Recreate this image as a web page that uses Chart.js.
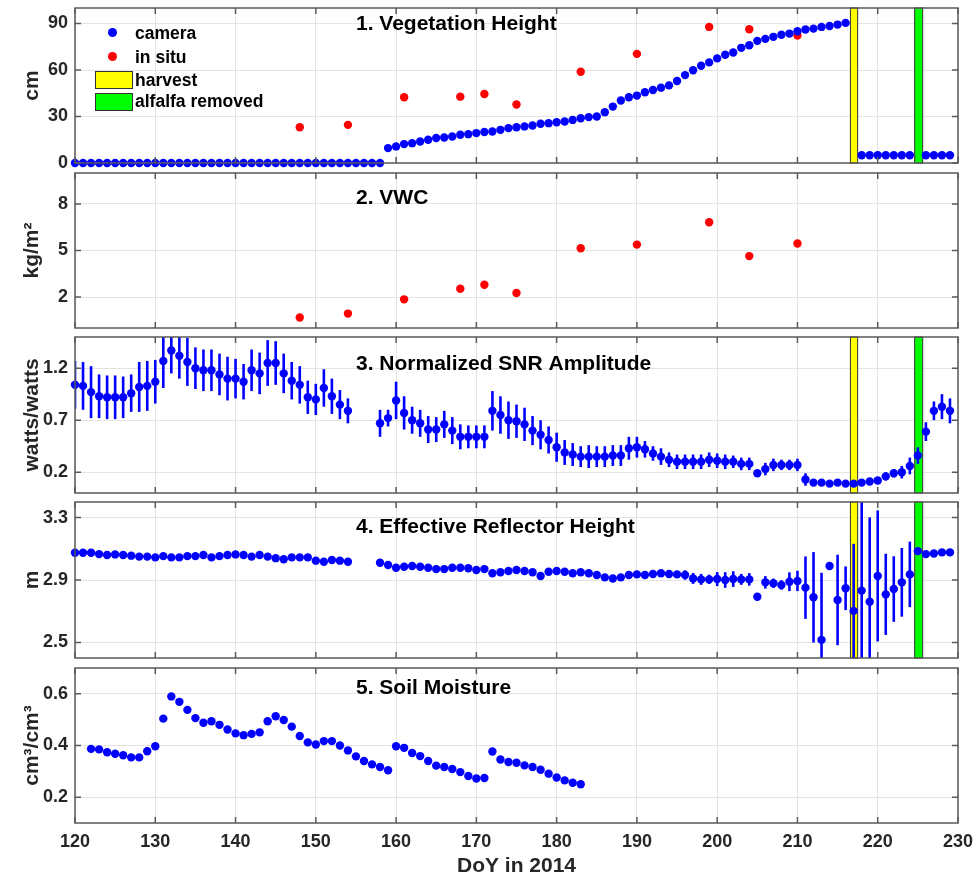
<!DOCTYPE html>
<html>
<head>
<meta charset="utf-8">
<script src="https://cdn.jsdelivr.net/npm/chart.js@4.4.1/dist/chart.umd.min.js"></script>
<style>
  html, body { margin: 0; padding: 0; background: #fff; }
  #fig { position: relative; width: 976px; height: 877px; overflow: hidden; font-family: "Liberation Sans", Arial, sans-serif; }
  #fig canvas { position: absolute; left: 0; }
  .leg { position: absolute; font-weight: bold; font-size: 17.5px; color: #000; white-space: nowrap; line-height: 20px; }
  .dot { position: absolute; width: 9px; height: 9px; border-radius: 50%; }
  .box { position: absolute; width: 36px; height: 16px; border: 1px solid #333; }
</style>
</head>
<body>
<div id="fig">
  <div class="dot" style="left:108px;top:28px;background:#0000ff"></div>
  <div class="leg" style="left:135px;top:23px">camera</div>
  <div class="dot" style="left:108px;top:52px;background:#ff0000"></div>
  <div class="leg" style="left:135px;top:47px">in situ</div>
  <div class="box" style="left:95px;top:71px;background:#ffff00"></div>
  <div class="leg" style="left:135px;top:70px">harvest</div>
  <div class="box" style="left:95px;top:93px;background:#00ff00"></div>
  <div class="leg" style="left:135px;top:91px">alfalfa removed</div>
</div>
<script>
// x axis
const dayTicks = [120, 130, 140, 150, 160, 170, 180, 190, 200, 210, 220, 230];

// harvest / alfalfa removed (DoY spans)
const harvestSpan = [216.6, 217.5];
const removedSpan = [224.6, 225.6];

// 1. vegetation height, camera (cm)
const camDays = [
  120, 121, 122, 123, 124, 125, 126, 127, 128, 129, 130, 131, 132, 133, 134, 135, 136, 137, 138, 139,
  140, 141, 142, 143, 144, 145, 146, 147, 148, 149, 150, 151, 152, 153, 154, 155, 156, 157, 158,
  159, 160, 161, 162, 163, 164, 165, 166, 167, 168, 169, 170, 171, 172, 173, 174, 175, 176, 177, 178,
  179, 180, 181, 182, 183, 184, 185, 186, 187, 188, 189, 190, 191, 192, 193, 194, 195, 196, 197, 198,
  199, 200, 201, 202, 203, 204, 205, 206, 207, 208, 209, 210, 211, 212, 213, 214, 215, 216,
  218, 219, 220, 221, 222, 223, 224, 226, 227, 228, 229
];
const camHeight = [
  0, 0, 0, 0, 0, 0, 0, 0, 0, 0, 0, 0, 0, 0, 0, 0, 0, 0, 0, 0,
  0, 0, 0, 0, 0, 0, 0, 0, 0, 0, 0, 0, 0, 0, 0, 0, 0, 0, 0,
  9.6, 10.7, 12.2, 12.8, 13.9, 15.0, 16.1, 16.5, 17.1, 18.2, 18.6, 19.3, 20.0, 20.3, 21.4, 22.5, 23.1, 23.6, 24.2, 25.3,
  25.7, 26.3, 26.8, 27.8, 28.9, 29.6, 30.0, 32.8, 36.4, 40.3, 42.4, 43.5, 45.6, 47.1, 48.6, 50.1, 52.9, 56.7, 59.8, 62.7,
  64.9, 67.5, 69.8, 71.3, 74.3, 76.0, 78.8, 80.1, 81.4, 82.7, 83.5, 85.0, 86.1, 86.7, 87.8, 88.4, 89.3, 90.4,
  5, 5, 5, 5, 5, 5, 5, 5, 5, 5, 5
];

// in situ samples (height cm, VWC kg/m2)
const insituDays = [148, 154, 161, 168, 171, 175, 183, 190, 199, 204, 210];
const insituHeight = [23.1, 24.6, 42.4, 42.8, 44.5, 37.7, 58.9, 70.4, 87.8, 86.3, 82.2];
const insituVwc = [0.68, 0.93, 1.85, 2.53, 2.79, 2.26, 5.15, 5.38, 6.82, 4.64, 5.45];

// 3./4. GPS days
const gpsDays = [
  120, 121, 122, 123, 124, 125, 126, 127, 128, 129, 130, 131, 132, 133, 134, 135, 136, 137, 138, 139,
  140, 141, 142, 143, 144, 145, 146, 147, 148, 149, 150, 151, 152, 153, 154,
  158, 159, 160, 161, 162, 163, 164, 165, 166, 167, 168, 169, 170, 171, 172, 173, 174, 175, 176, 177,
  178, 179, 180, 181, 182, 183, 184, 185, 186, 187, 188, 189, 190, 191, 192, 193, 194, 195, 196, 197,
  198, 199, 200, 201, 202, 203, 204, 205, 206, 207, 208, 209, 210, 211, 212, 213, 214, 215, 216, 217,
  218, 219, 220, 221, 222, 223, 224, 225, 226, 227, 228, 229
];
const snrAmp = [
  1.04, 1.03, 0.97, 0.93, 0.92, 0.92, 0.92, 0.96, 1.02, 1.03, 1.07, 1.27, 1.37, 1.32, 1.26, 1.20, 1.18, 1.18, 1.14, 1.10,
  1.10, 1.07, 1.18, 1.15, 1.25, 1.25, 1.15, 1.08, 1.04, 0.92, 0.90, 1.01, 0.93, 0.85, 0.79,
  0.67, 0.72, 0.89, 0.77, 0.70, 0.67, 0.61, 0.61, 0.66, 0.60, 0.54, 0.54, 0.54, 0.54, 0.79, 0.75, 0.70, 0.69, 0.66, 0.60,
  0.56, 0.51, 0.44, 0.39, 0.37, 0.35, 0.35, 0.35, 0.35, 0.36, 0.36, 0.43, 0.44, 0.42, 0.38, 0.35, 0.32, 0.30, 0.30, 0.30,
  0.30, 0.32, 0.31, 0.30, 0.30, 0.28, 0.28, 0.19, 0.23, 0.27, 0.27, 0.27, 0.27, 0.13, 0.10, 0.10, 0.09, 0.10, 0.09, 0.09,
  0.10, 0.11, 0.12, 0.16, 0.19, 0.20, 0.26, 0.36, 0.59, 0.79, 0.83, 0.79
];
const snrErr = [
  0.23, 0.23, 0.25, 0.21, 0.21, 0.21, 0.20, 0.18, 0.24, 0.24, 0.21, 0.26, 0.22, 0.22, 0.23, 0.20, 0.20, 0.20, 0.20, 0.21,
  0.19, 0.17, 0.20, 0.20, 0.22, 0.21, 0.19, 0.18, 0.18, 0.16, 0.15, 0.18, 0.17, 0.14, 0.12,
  0.13, 0.08, 0.18, 0.16, 0.13, 0.13, 0.13, 0.12, 0.13, 0.13, 0.12, 0.11, 0.11, 0.11, 0.19, 0.18, 0.18, 0.16, 0.16, 0.14,
  0.14, 0.13, 0.14, 0.12, 0.11, 0.10, 0.11, 0.10, 0.10, 0.10, 0.10, 0.11, 0.10, 0.08, 0.07, 0.08, 0.07, 0.07, 0.07, 0.07,
  0.07, 0.07, 0.07, 0.07, 0.06, 0.06, 0.06, 0.02, 0.06, 0.06, 0.05, 0.05, 0.06, 0.06, 0.02, 0.02, 0.02, 0.02, 0.02, 0.03,
  0.03, 0.03, 0.03, 0.04, 0.04, 0.06, 0.08, 0.08, 0.09, 0.09, 0.12, 0.12
];
const reflHeight = [
  3.075, 3.075, 3.075, 3.066, 3.060, 3.064, 3.060, 3.056, 3.050, 3.050, 3.045, 3.053, 3.045, 3.045, 3.053, 3.053, 3.060, 3.045, 3.053, 3.060,
  3.064, 3.060, 3.050, 3.060, 3.050, 3.040, 3.033, 3.045, 3.045, 3.045, 3.024, 3.017, 3.028, 3.024, 3.017,
  3.011, 2.996, 2.979, 2.985, 2.990, 2.985, 2.979, 2.970, 2.970, 2.979, 2.979, 2.975, 2.964, 2.970, 2.943, 2.950, 2.958, 2.964, 2.958, 2.950,
  2.926, 2.953, 2.958, 2.953, 2.943, 2.950, 2.943, 2.932, 2.917, 2.910, 2.917, 2.932, 2.936, 2.932, 2.938, 2.943, 2.938, 2.936, 2.932, 2.910,
  2.904, 2.904, 2.906, 2.900, 2.906, 2.904, 2.904, 2.793, 2.885, 2.879, 2.868, 2.889, 2.894, 2.851, 2.789, 2.516, 2.990, 2.772, 2.847, 2.702,
  2.832, 2.761, 2.926, 2.808, 2.842, 2.885, 2.936, 3.085, 3.066, 3.070, 3.077, 3.077
];
const reflErr = [
  0, 0, 0, 0, 0, 0, 0, 0, 0, 0, 0, 0, 0, 0, 0, 0, 0, 0, 0, 0,
  0, 0, 0, 0, 0, 0, 0, 0, 0, 0, 0, 0, 0, 0, 0,
  0, 0, 0, 0, 0, 0, 0, 0, 0, 0, 0, 0, 0, 0, 0, 0, 0, 0, 0, 0,
  0, 0, 0, 0, 0, 0, 0, 0, 0, 0, 0, 0, 0, 0, 0, 0, 0, 0, 0.03, 0.035,
  0.035, 0.03, 0.045, 0.05, 0.05, 0.035, 0.04, 0, 0.04, 0.03, 0.03, 0.06, 0.065, 0.20, 0.29, 0.43, 0, 0.29, 0.14, 0.43,
  0.60, 0.54, 0.42, 0.26, 0.21, 0.22, 0.21, 0, 0, 0, 0, 0
];

// 5. soil moisture
const soilDays = [
  122, 123, 124, 125, 126, 127, 128, 129, 130, 131, 132, 133, 134, 135, 136, 137, 138, 139, 140, 141,
  142, 143, 144, 145, 146, 147, 148, 149, 150, 151, 152, 153, 154, 155, 156, 157, 158, 159,
  160, 161, 162, 163, 164, 165, 166, 167, 168, 169, 170, 171,
  172, 173, 174, 175, 176, 177, 178, 179, 180, 181, 182, 183
];
const soilMoisture = [
  0.387, 0.385, 0.374, 0.368, 0.362, 0.354, 0.354, 0.378, 0.397, 0.504, 0.590, 0.569, 0.538, 0.506, 0.488, 0.494, 0.480, 0.462, 0.447, 0.440,
  0.445, 0.451, 0.494, 0.513, 0.499, 0.473, 0.437, 0.412, 0.404, 0.417, 0.417, 0.400, 0.381, 0.358, 0.340, 0.327, 0.317, 0.304,
  0.397, 0.391, 0.371, 0.359, 0.340, 0.322, 0.317, 0.309, 0.297, 0.282, 0.272, 0.274,
  0.377, 0.346, 0.336, 0.333, 0.323, 0.317, 0.306, 0.291, 0.276, 0.265, 0.256, 0.250
];

// y ticks
const heightTicks = [0, 30, 60, 90];
const vwcTicks = [2, 5, 8];
const snrTicks = [0.2, 0.7, 1.2];
const reflTicks = [2.5, 2.9, 3.3];
const soilTicks = [0.2, 0.4, 0.6];

const BLUE = '#0000ff';
const RED = '#ff0000';
const GRID = '#e4e4e4';
const AXIS = '#5a5a5a';
const TEXT = '#262626';
const FONT = '"Liberation Sans", Arial, sans-serif';

function pts(xs, ys) {
  return xs.map((x, i) => ({ x: x, y: ys[i] }));
}

function dots(xs, ys, color, errs) {
  return {
    data: pts(xs, ys),
    errors: errs || null,
    backgroundColor: color,
    borderColor: color,
    pointRadius: 4.2,
    pointBorderWidth: 0,
    clip: false
  };
}

const shadePlugin = {
  id: 'shade',
  beforeDatasetsDraw(chart, args, opts) {
    if (!opts.spans) return;
    const { ctx, chartArea, scales: { x } } = chart;
    ctx.save();
    opts.spans.forEach(s => {
      const x0 = x.getPixelForValue(s.range[0]);
      const x1 = x.getPixelForValue(s.range[1]);
      ctx.fillStyle = s.color;
      ctx.fillRect(x0, chartArea.top, x1 - x0, chartArea.height);
      ctx.strokeStyle = '#333';
      ctx.lineWidth = 1;
      ctx.strokeRect(x0, chartArea.top, x1 - x0, chartArea.height);
    });
    ctx.restore();
  }
};

const errorBarPlugin = {
  id: 'errorBars',
  beforeDatasetsDraw(chart) {
    const { ctx, chartArea, scales: { x, y } } = chart;
    chart.data.datasets.forEach(ds => {
      if (!ds.errors) return;
      ctx.save();
      ctx.beginPath();
      ctx.rect(chartArea.left, chartArea.top, chartArea.width, chartArea.height);
      ctx.clip();
      ctx.strokeStyle = ds.borderColor;
      ctx.lineWidth = 2.6;
      ds.data.forEach((p, i) => {
        const e = ds.errors[i];
        if (!e) return;
        const px = x.getPixelForValue(p.x);
        ctx.beginPath();
        ctx.moveTo(px, y.getPixelForValue(p.y - e));
        ctx.lineTo(px, y.getPixelForValue(p.y + e));
        ctx.stroke();
      });
      ctx.restore();
    });
  }
};

const framePlugin = {
  id: 'frame',
  afterDraw(chart) {
    const { ctx, chartArea: a, scales: { x, y } } = chart;
    ctx.save();
    ctx.strokeStyle = AXIS;
    ctx.lineWidth = 1.5;
    ctx.beginPath();
    x.ticks.forEach(t => {
      const px = x.getPixelForValue(t.value);
      ctx.moveTo(px, a.top); ctx.lineTo(px, a.top + 6);
      ctx.moveTo(px, a.bottom); ctx.lineTo(px, a.bottom - 6);
    });
    y.ticks.forEach(t => {
      const py = y.getPixelForValue(t.value);
      ctx.moveTo(a.left, py); ctx.lineTo(a.left + 6, py);
      ctx.moveTo(a.right, py); ctx.lineTo(a.right - 6, py);
    });
    ctx.stroke();
    ctx.strokeRect(a.left, a.top, a.right - a.left, a.bottom - a.top);
    ctx.restore();
  }
};

const titlePlugin = {
  id: 'panelTitle',
  afterDatasetsDraw(chart, args, opts) {
    const { ctx, chartArea, scales: { x } } = chart;
    ctx.save();
    ctx.font = 'bold 21px ' + FONT;
    ctx.fillStyle = '#000';
    ctx.textBaseline = 'middle';
    ctx.textAlign = 'left';
    ctx.fillText(opts.text, x.getPixelForValue(155), chartArea.top + opts.dy);
    ctx.restore();
  }
};

const fig = document.getElementById('fig');

function makePanel(cfg) {
  const last = !!cfg.last;
  const padTop = 12;
  const padBottom = last ? 0 : 12;
  const canvasTop = cfg.top - padTop;
  const height = last ? 877 - canvasTop : cfg.bottom - cfg.top + padTop + padBottom;
  const xAxisH = last ? 877 - cfg.bottom : 0;

  const canvas = document.createElement('canvas');
  canvas.width = 976;
  canvas.height = height;
  canvas.style.top = canvasTop + 'px';
  fig.insertBefore(canvas, fig.firstChild);

  return new Chart(canvas, {
    type: 'scatter',
    data: { datasets: cfg.datasets },
    options: {
      responsive: false,
      animation: false,
      events: [],
      layout: { padding: { left: 0, right: 18, top: padTop, bottom: padBottom }, autoPadding: false },
      scales: {
        x: {
          type: 'linear', min: 120, max: 230,
          afterBuildTicks: s => { s.ticks = dayTicks.map(v => ({ value: v })); },
          afterFit: s => { s.height = xAxisH; s.paddingLeft = 0; s.paddingRight = 0; },
          grid: { color: GRID, drawTicks: false },
          border: { display: false },
          ticks: { display: last, padding: 8, color: TEXT, font: { family: FONT, size: 18, weight: 'bold' } },
          title: {
            display: last, text: 'DoY in 2014', color: TEXT,
            font: { family: FONT, size: 21, weight: 'bold', lineHeight: 1 },
            padding: { top: 0, bottom: 0 }
          }
        },
        y: {
          type: 'linear', min: cfg.ymin, max: cfg.ymax,
          afterBuildTicks: s => { s.ticks = cfg.yticks.map(v => ({ value: v })); },
          afterFit: s => { s.width = 75; s.paddingTop = 0; s.paddingBottom = 0; },
          grid: { color: GRID, drawTicks: false },
          border: { display: false },
          ticks: { padding: 7, color: TEXT, font: { family: FONT, size: 18, weight: 'bold' }, callback: v => String(v) },
          title: {
            display: true, text: cfg.ylabel, color: TEXT,
            font: { family: FONT, size: 21, weight: 'bold' },
            padding: { top: 20, bottom: 0 }
          }
        }
      },
      plugins: {
        legend: { display: false },
        tooltip: { enabled: false },
        shade: { spans: cfg.shade ? [{ range: harvestSpan, color: '#ffff00' }, { range: removedSpan, color: '#00ff00' }] : null },
        panelTitle: { text: cfg.title, dy: cfg.titleDy }
      }
    },
    plugins: [shadePlugin, errorBarPlugin, framePlugin, titlePlugin]
  });
}

makePanel({
  top: 8, bottom: 163, ymin: 0, ymax: 100, yticks: heightTicks, ylabel: 'cm',
  title: '1. Vegetation Height', titleDy: 16, shade: true,
  datasets: [dots(camDays, camHeight, BLUE), dots(insituDays, insituHeight, RED)]
});
makePanel({
  top: 173, bottom: 328, ymin: 0, ymax: 10, yticks: vwcTicks, ylabel: 'kg/m²',
  title: '2. VWC', titleDy: 25,
  datasets: [dots(insituDays, insituVwc, RED)]
});
makePanel({
  top: 337, bottom: 493, ymin: 0, ymax: 1.5, yticks: snrTicks, ylabel: 'watts/watts',
  title: '3. Normalized SNR Amplitude', titleDy: 27, shade: true,
  datasets: [dots(gpsDays, snrAmp, BLUE, snrErr)]
});
makePanel({
  top: 502, bottom: 658, ymin: 2.4, ymax: 3.4, yticks: reflTicks, ylabel: 'm',
  title: '4. Effective Reflector Height', titleDy: 25, shade: true,
  datasets: [dots(gpsDays, reflHeight, BLUE, reflErr)]
});
makePanel({
  top: 668, bottom: 823, ymin: 0.1, ymax: 0.7, yticks: soilTicks, ylabel: 'cm³/cm³',
  title: '5. Soil Moisture', titleDy: 20, last: true,
  datasets: [dots(soilDays, soilMoisture, BLUE)]
});
</script>
</body>
</html>
